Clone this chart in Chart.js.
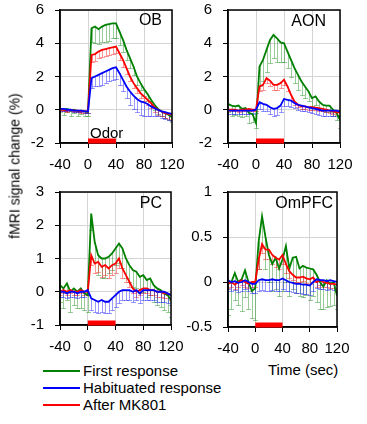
<!DOCTYPE html>
<html><head><meta charset="utf-8">
<script src="https://cdn.jsdelivr.net/npm/chart.js@4.4.1/dist/chart.umd.min.js"></script>
<style>
html,body{margin:0;padding:0;background:#fff;width:367px;height:424px;overflow:hidden;font-family:"Liberation Sans",Arial,sans-serif;}
canvas{position:absolute;}
.txt{position:absolute;white-space:nowrap;color:#000;font-size:15px;line-height:17px;}
.sw{position:absolute;height:2px;width:37px;}
</style></head><body>
<canvas id="cOB"></canvas>
<canvas id="cAON"></canvas>
<canvas id="cPC"></canvas>
<canvas id="cOM"></canvas>
<div class="txt" style="left:15px;top:166px;font-size:14px;transform:translate(-50%,-50%) rotate(-90deg);">fMRI signal change (%)</div>
<div class="sw" style="left:43px;top:370px;background:#008000"></div>
<div class="txt" style="left:83px;top:362px;">First response</div>
<div class="sw" style="left:43px;top:387px;background:#0000ff"></div>
<div class="txt" style="left:83px;top:379px;">Habituated response</div>
<div class="sw" style="left:43px;top:404px;background:#ff0000"></div>
<div class="txt" style="left:83px;top:396px;">After MK801</div>
<div class="txt" style="left:268px;top:361px;">Time (sec)</div>
<script>
// ---- data (time in seconds, values in % signal change) ----
const times = [-40,-35,-30,-25,-20,-15,-10,-5,0,5,10,15,20,25,30,35,40,45,50,55,60,65,70,75,80,85,90,95,100,105,110,115,120];
const odorWindow = [0, 40];
const seriesNames = ['First response','Habituated response','After MK801'];

const obFirst = [0.05,0.0,0.05,-0.05,0.0,-0.1,-0.05,-0.1,-0.15,4.9,5.0,4.85,5.0,5.1,5.15,5.2,5.2,4.7,4.2,3.6,3.1,2.6,2.0,1.6,1.25,0.95,0.6,0.3,0.05,-0.1,-0.2,-0.3,-0.45];
const obFirstErr = [0.2,0.3,0.2,0.3,0.2,0.3,0.2,0.3,0.2,0.8,1.0,0.9,0.9,1.0,1.0,0.9,0.9,0.8,0.7,0.6,0.6,0.5,0.5,0.4,0.4,0.4,0.3,0.3,0.3,0.3,0.3,0.3,0.3];
const obHab = [0.05,0.05,0.0,0.0,-0.05,-0.05,-0.05,-0.1,-0.1,1.9,2.0,2.1,2.2,2.3,2.4,2.5,2.55,2.2,1.8,1.4,1.1,0.85,0.65,0.5,0.45,0.35,0.2,0.1,0.0,-0.1,-0.15,-0.2,-0.25];
const obHabErr = [0.1,0.1,0.1,0.1,0.1,0.1,0.1,0.1,0.1,0.6,0.6,0.7,0.7,0.7,0.7,0.7,0.7,0.7,0.7,0.7,0.8,0.8,0.8,0.8,0.8,0.7,0.6,0.5,0.4,0.4,0.4,0.4,0.4];
const obMk = [0.0,0.0,-0.05,0.0,-0.05,-0.05,-0.1,-0.1,-0.1,3.3,3.35,3.5,3.6,3.65,3.7,3.75,3.8,3.4,3.0,2.5,2.0,1.6,1.3,1.0,0.8,0.6,0.4,0.15,0.0,-0.1,-0.2,-0.25,-0.3];
const obMkErr = [0.1,0.1,0.1,0.1,0.1,0.1,0.1,0.1,0.1,0.4,0.4,0.4,0.4,0.4,0.4,0.4,0.4,0.4,0.4,0.35,0.3,0.3,0.3,0.3,0.3,0.3,0.3,0.3,0.3,0.3,0.3,0.3,0.3];

const aonFirst = [0.35,0.25,0.2,0.25,0.05,0.1,-0.2,-0.25,-0.8,2.6,3.0,3.6,4.2,4.5,4.3,4.05,4.0,3.5,3.0,2.5,2.1,1.7,1.4,1.1,0.7,0.8,0.5,0.3,0.25,0.25,0.0,-0.2,-0.6];
const aonFirstErr = [0.5,0.6,0.5,0.6,0.5,0.5,0.6,0.5,0.3,1.2,1.3,1.3,1.4,1.4,1.4,1.2,1.1,1.0,1.0,0.9,0.9,0.8,0.7,0.6,0.5,0.5,0.4,0.4,0.4,0.4,0.4,0.4,0.5];
const aonHab = [-0.05,-0.05,-0.05,-0.05,-0.05,-0.05,-0.05,-0.05,0.0,0.45,0.35,0.3,0.15,0.05,0.1,0.25,0.65,0.6,0.55,0.4,0.3,0.25,0.2,0.15,0.1,0.05,0.0,-0.05,-0.05,-0.05,-0.05,-0.05,-0.1];
const aonHabErr = [0.2,0.2,0.2,0.2,0.2,0.2,0.2,0.2,0.2,0.4,0.4,0.4,0.4,0.4,0.4,0.4,0.4,0.4,0.4,0.3,0.3,0.3,0.3,0.3,0.3,0.3,0.3,0.3,0.3,0.3,0.3,0.3,0.3];
const aonMk = [0.0,0.0,0.0,-0.05,0.0,0.0,0.05,0.0,0.0,1.4,1.5,1.9,1.75,1.5,1.5,1.6,1.8,1.4,0.9,0.5,0.3,0.2,0.2,0.15,0.15,0.12,0.1,0.05,0.0,-0.05,-0.1,-0.15,-0.15];
const aonMkErr = [0.1,0.1,0.1,0.1,0.1,0.1,0.1,0.1,0.1,0.3,0.3,0.3,0.3,0.3,0.3,0.3,0.3,0.3,0.3,0.2,0.15,0.15,0.15,0.15,0.15,0.15,0.15,0.15,0.15,0.15,0.15,0.15,0.15];

const pcFirst = [0.2,0.1,0.25,0.0,0.1,0.0,0.1,-0.05,-0.1,2.35,1.5,1.1,1.0,1.0,1.05,1.15,1.3,1.45,1.3,1.0,0.8,0.65,0.6,0.45,0.5,0.35,0.4,0.2,0.1,0.05,-0.05,-0.1,-0.25];
const pcFirstErr = [0.5,0.6,0.5,0.6,0.5,0.5,0.6,0.5,0.5,0.5,0.6,0.6,0.6,0.6,0.5,0.5,0.5,0.6,0.6,0.6,0.5,0.5,0.5,0.5,0.5,0.5,0.5,0.5,0.5,0.5,0.5,0.5,0.5];
const pcHab = [0.0,0.0,-0.05,0.0,0.0,-0.05,0.0,0.0,0.05,-0.2,-0.25,-0.3,-0.25,-0.3,-0.3,-0.2,-0.1,0.0,0.05,0.05,0.05,0.0,0.05,-0.05,0.05,0.05,0.05,0.05,0.0,0.0,0.0,-0.05,-0.1];
const pcHabErr = [0.15,0.15,0.15,0.15,0.15,0.15,0.15,0.15,0.15,0.35,0.35,0.35,0.35,0.35,0.35,0.35,0.35,0.35,0.3,0.3,0.3,0.3,0.3,0.3,0.3,0.3,0.3,0.3,0.3,0.3,0.3,0.3,0.3];
const pcMk = [0.0,0.05,0.0,0.05,0.0,0.0,0.05,0.0,0.0,1.1,0.85,0.9,0.75,0.8,0.7,0.8,0.85,1.0,0.7,0.5,0.3,0.1,0.0,0.05,0.1,0.1,0.05,0.05,0.0,0.0,-0.05,-0.05,-0.1];
const pcMkErr = [0.1,0.1,0.1,0.1,0.1,0.1,0.1,0.1,0.1,0.3,0.3,0.3,0.3,0.3,0.3,0.3,0.3,0.3,0.3,0.2,0.15,0.15,0.15,0.15,0.15,0.15,0.15,0.15,0.15,0.15,0.15,0.15,0.15];

const omFirst = [-0.02,0.0,0.1,0.0,0.03,0.13,0.0,-0.1,-0.07,0.45,0.73,0.5,0.3,0.2,0.27,0.15,0.25,0.4,0.15,0.27,0.28,0.15,0.18,0.16,0.15,0.14,0.08,0.0,-0.05,0.02,-0.02,0.0,-0.15];
const omFirstErr = [0.35,0.3,0.3,0.25,0.35,0.3,0.3,0.3,0.35,0.3,0.35,0.35,0.3,0.3,0.35,0.3,0.35,0.4,0.3,0.35,0.4,0.3,0.35,0.3,0.35,0.3,0.3,0.3,0.25,0.3,0.25,0.25,0.15];
const omHab = [0.02,0.0,0.01,-0.01,0.0,0.02,0.0,-0.02,-0.02,0.02,0.03,0.02,0.02,0.03,0.02,0.02,0.04,0.02,0.0,-0.01,-0.02,-0.02,-0.03,-0.03,-0.04,0.0,0.03,0.02,0.02,0.01,0.02,0.01,0.0];
const omHabErr = [0.1,0.1,0.1,0.1,0.1,0.1,0.1,0.1,0.1,0.12,0.12,0.12,0.12,0.12,0.12,0.12,0.12,0.12,0.1,0.1,0.1,0.1,0.1,0.1,0.1,0.1,0.1,0.1,0.1,0.1,0.1,0.1,0.1];
const omMk = [-0.02,0.0,-0.03,0.0,0.02,0.0,-0.02,0.0,0.0,0.25,0.42,0.36,0.36,0.3,0.27,0.25,0.3,0.2,0.12,0.08,0.05,0.05,0.06,0.04,0.03,0.05,0.0,0.02,0.0,-0.01,-0.02,-0.02,-0.03];
const omMkErr = [0.05,0.05,0.05,0.05,0.05,0.05,0.05,0.05,0.05,0.1,0.1,0.1,0.1,0.1,0.1,0.1,0.1,0.1,0.08,0.06,0.05,0.05,0.05,0.05,0.05,0.05,0.05,0.05,0.05,0.05,0.05,0.05,0.05];

// ---- styling ----
const LINE = ['#008000','#0000ff','#ff0000'];
const ERR = ['rgba(0,128,0,0.4)','rgba(0,0,255,0.4)','rgba(255,0,0,0.4)'];
Chart.defaults.font.family = "'Liberation Sans', Arial, sans-serif";
Chart.defaults.font.size = 15;
Chart.defaults.color = '#000';

const decoPlugin = {
  id: 'deco',
  beforeDatasetsDraw(chart) {
    const ctx = chart.ctx, xs = chart.scales.x, ys = chart.scales.y, a = chart.chartArea;
    ctx.save();
    ctx.beginPath(); ctx.rect(a.left, a.top, a.right - a.left, a.bottom - a.top); ctx.clip();
    chart.data.datasets.slice().reverse().forEach(ds => {
      ctx.strokeStyle = ds.errColor; ctx.lineWidth = 1;
      ds.data.forEach((p, i) => {
        const x = Math.round(xs.getPixelForValue(p.x)) + 0.5;
        const y1 = ys.getPixelForValue(p.y);
        const y2 = Math.round(ys.getPixelForValue(p.y - ds.errMinus[i])) + 0.5;
        ctx.beginPath();
        ctx.moveTo(x, y1); ctx.lineTo(x, y2);
        ctx.moveTo(x - 2.5, y2); ctx.lineTo(x + 2.5, y2);
        ctx.stroke();
      });
    });
    ctx.restore();
  },
  afterDraw(chart) {
    const ctx = chart.ctx, xs = chart.scales.x, a = chart.chartArea, o = chart.options.plugins.deco;
    ctx.save();
    ctx.strokeStyle = '#000'; ctx.lineWidth = 1.5;
    ctx.strokeRect(a.left, a.top, a.right - a.left, a.bottom - a.top);
    const x0 = xs.getPixelForValue(odorWindow[0]), x1 = xs.getPixelForValue(odorWindow[1]);
    ctx.fillStyle = '#ff0000';
    ctx.fillRect(x0, a.bottom - 4.5, x1 - x0, 5);
    ctx.fillStyle = '#000';
    ctx.font = "16px 'Liberation Sans', Arial, sans-serif";
    ctx.textAlign = 'right'; ctx.textBaseline = 'alphabetic';
    ctx.fillText(o.title, a.right - o.titleDx, a.top + o.titleDy);
    if (o.odorLabel) {
      ctx.font = "15px 'Liberation Sans', Arial, sans-serif";
      ctx.textAlign = 'left';
      ctx.fillText(o.odorLabel, x0 + 2, a.bottom - 5);
    }
    ctx.restore();
  }
};

function makePanel(id, box, area, yMin, yMax, yStep, series, errs, deco) {
  const cv = document.getElementById(id);
  cv.width = box.w; cv.height = box.h;
  cv.style.left = box.x + 'px'; cv.style.top = box.y + 'px';
  cv.style.width = box.w + 'px'; cv.style.height = box.h + 'px';
  const L = area.l - box.x, T = area.t - box.y, R = box.x + box.w - area.r, B = box.y + box.h - area.b;
  const order = [1, 2, 0]; // blue on top, green at bottom
  const datasets = order.map(k => ({
    label: seriesNames[k],
    data: times.map((t, i) => ({ x: t, y: series[k][i] })),
    errMinus: errs[k], errColor: ERR[k],
    borderColor: LINE[k], borderWidth: 1.8, pointRadius: 0, tension: 0, fill: false
  }));
  new Chart(cv, {
    type: 'line',
    data: { datasets },
    options: {
      responsive: false, animation: false, devicePixelRatio: 1,
      layout: { padding: { left: 0, top: T, right: R, bottom: 0 } },
      plugins: { legend: { display: false }, tooltip: { enabled: false }, deco },
      scales: {
        x: {
          type: 'linear', min: -40, max: 120,
          ticks: { stepSize: 40, padding: 8, maxRotation: 0, autoSkip: false, color: '#000' },
          grid: { color: '#d4d4d4', tickColor: '#000', tickLength: 5 },
          border: { color: '#000', width: 1.5 },
          afterFit: s => { s.height = B; s.paddingLeft = 0; s.paddingRight = 0; }
        },
        y: {
          min: yMin, max: yMax,
          ticks: { stepSize: yStep, padding: 11, color: '#000', callback: v => String(v) },
          grid: { color: '#d4d4d4', tickColor: '#000', tickLength: 5 },
          border: { color: '#000', width: 1.5 },
          afterFit: s => { s.width = L; s.paddingTop = 0; s.paddingBottom = 0; }
        }
      }
    },
    plugins: [decoPlugin]
  });
}

makePanel('cOB', {x:0,y:0,w:192,h:180}, {l:60,r:172,t:10,b:143}, -2, 6, 2,
  [obFirst, obHab, obMk], [obFirstErr, obHabErr, obMkErr], {title:'OB', titleDx:10, titleDy:15, odorLabel:'Odor'});
makePanel('cAON', {x:176,y:0,w:191,h:180}, {l:228,r:340,t:10,b:143}, -2, 6, 2,
  [aonFirst, aonHab, aonMk], [aonFirstErr, aonHabErr, aonMkErr], {title:'AON', titleDx:14, titleDy:16});
makePanel('cPC', {x:0,y:180,w:192,h:180}, {l:60,r:171,t:192,b:325}, -1, 3, 1,
  [pcFirst, pcHab, pcMk], [pcFirstErr, pcHabErr, pcMkErr], {title:'PC', titleDx:9, titleDy:16});
makePanel('cOM', {x:176,y:180,w:191,h:180}, {l:228,r:337,t:192,b:327}, -0.5, 1, 0.5,
  [omFirst, omHab, omMk], [omFirstErr, omHabErr, omMkErr], {title:'OmPFC', titleDx:4, titleDy:16});
</script>
</body></html>
